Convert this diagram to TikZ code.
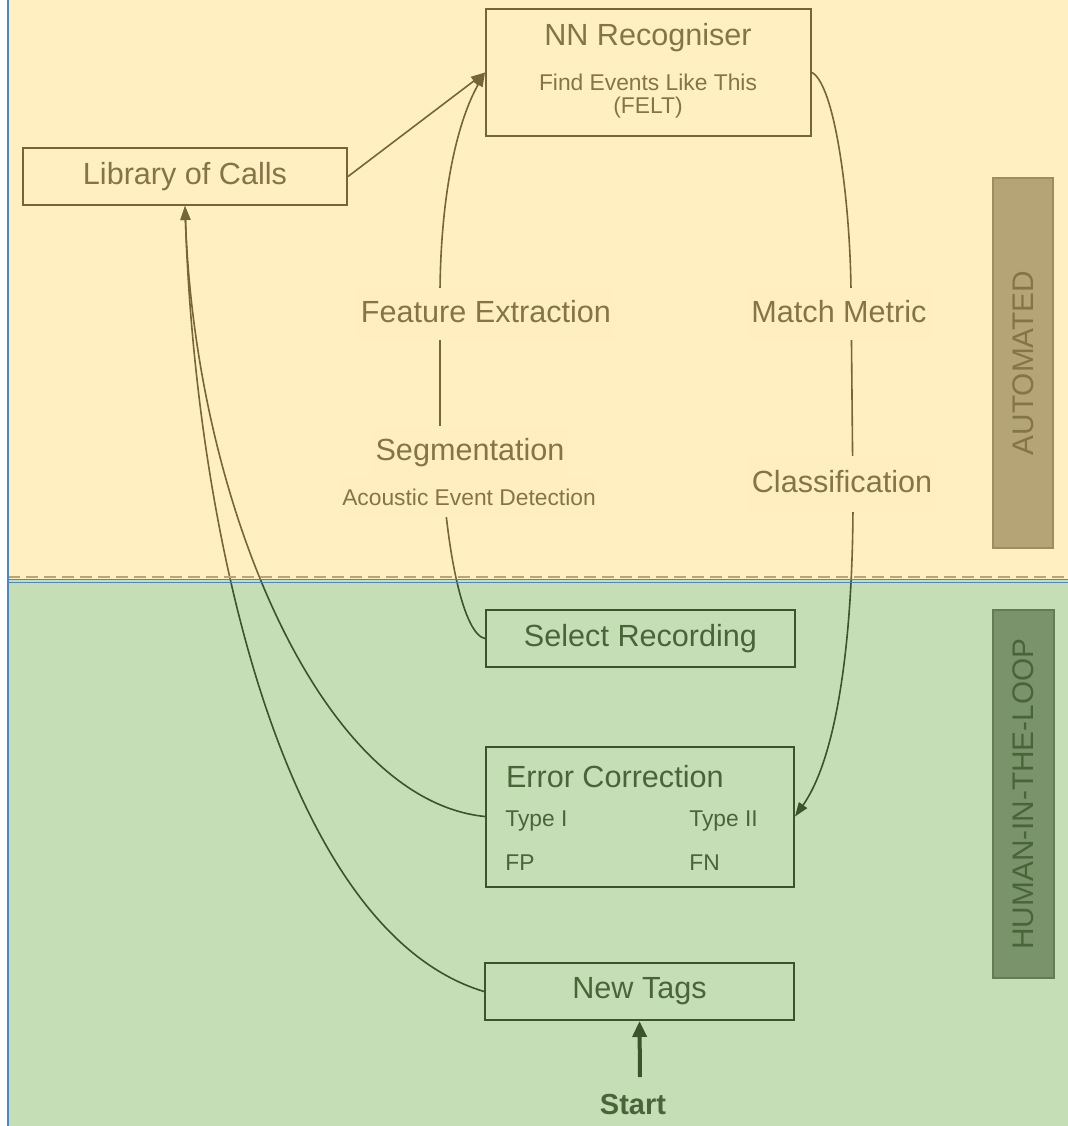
\documentclass[tikz,border=0pt]{standalone}
\usepackage{fontspec}
\setmainfont{Liberation Sans}
\usetikzlibrary{arrows.meta}
\definecolor{autobg}{RGB}{255,211,83}
\definecolor{humanbg}{RGB}{94,164,50}
\definecolor{ink}{RGB}{40,40,40}
\definecolor{inktext}{RGB}{64,64,64}
\definecolor{sepblue}{RGB}{75,135,205}
\tikzstyle{box}=[draw=ink, line width=1pt, text=inktext, font=\fontsize{15.3}{18}\selectfont]
\tikzstyle{lbl}=[fill=white, text=inktext, font=\fontsize{15.3}{18}\selectfont, inner xsep=2pt, inner ysep=6pt, text height=11pt, text depth=3pt]
\tikzstyle{sub}=[text=inktext, font=\fontsize{11.4}{13}\selectfont, inner sep=1pt]
\tikzstyle{flow}=[draw=ink, line width=.8pt]
\tikzstyle{tip}=[-{Triangle[length=7pt,width=5pt]}]
\tikzstyle{sidetag}=[draw=black!60, fill=black!46, text=black!75, line width=1pt, rotate=90, font=\fontsize{14.9}{17}\selectfont]

\begin{document}
\begin{tikzpicture}[x=.5pt, y=-.5pt]
    \useasboundingbox (0,0) rectangle (1068,1126);

    % boxes
    \node[box, minimum width=162pt, minimum height=28.5pt] (lib) at (185,176.5) {Library of Calls};
    \node[box, minimum width=162.5pt, minimum height=63.5pt] (nn) at (648.5,72.5) {};
    \node[box, minimum width=154.5pt, minimum height=28.5pt] (selrec) at (640.5,638.5) {Select Recording};
    \node[box, minimum width=154pt, minimum height=70pt] (ec) at (640,816.5) {};
    \node[box, minimum width=154.5pt, minimum height=28.5pt] (tags) at (639.5,991.5) {New Tags};

    % flows
    \draw[flow, tip] (lib.east) -- (nn.west);
    \draw[flow, tip] (selrec.west) .. controls (465,635) and (445,560) .. (440,430)
        -- (440,290) .. controls (441,190) and (458,120) .. (nn.west);
    \draw[flow, tip] (nn.east) .. controls (835,85) and (850,200) .. (851,290)
        -- (853,500) .. controls (853,650) and (835,760) .. (ec.east);
    \draw[flow, tip] (ec.west) .. controls (320,800) and (195,500) .. (lib.south);
    \draw[flow, tip] (tags.west) .. controls (280,930) and (195,520) .. (lib.south);

    % labels on the flows
    \node[lbl] (feat) at (486,314) {Feature Extraction};
    \node[lbl] (seg) at (470,452) {Segmentation};
    \node[sub, fill=white, inner ysep=6pt] (aed) at (469,497) {Acoustic Event Detection};
    \node[lbl] (match) at (839,314) {Match Metric};
    \node[lbl, inner ysep=7pt] (cls) at (842,484) {Classification};

    % box texts
    \node[box, draw=none] (nntitle) at (648,38) {NN Recogniser};
    \node[sub] (felt1) at (648,82) {Find Events Like This};
    \node[sub] (felt2) at (648,108) {(FELT)};
    \node[box, draw=none, anchor=west, inner sep=0pt] (ectitle) at (505,777) {Error Correction};
    \node[sub, anchor=west, inner sep=0pt] (t1) at (505,821) {Type I};
    \node[sub, anchor=west, inner sep=0pt] (t2) at (689,821) {Type II};
    \node[sub, anchor=west, inner sep=0pt] (fp) at (505,863) {FP};
    \node[sub, anchor=west, inner sep=0pt] (fn) at (689,863) {FN};

    % start
    \node[text=inktext, font=\fontsize{14.5}{17}\selectfont\bfseries] (start) at (633,1105) {Start};
    \coordinate (st) at (640,1077);
    \draw[draw=ink, line width=2pt, -{Triangle[length=8pt,width=7pt]}] (st) -- (tags.south);

    % side tags
    \node[sidetag, minimum width=185pt, minimum height=30pt] (auto) at (1023,363) {AUTOMATED};
    \node[sidetag, minimum width=184pt, minimum height=30.5pt] (hitl) at (1023.5,794) {HUMAN-IN-THE-LOOP};

    % separator
    \draw[black!45, line width=1pt, dash pattern=on 6pt off 3pt] (8,577) -- (1068,577);

    % panels
    \fill[autobg, opacity=.36] (8,0) rectangle (1068,579);
    \fill[humanbg, opacity=.36] (8,579) rectangle (1068,1126);

    \draw[sepblue, line width=.5pt] (8,579.5) -- (1068,579.5);
    \draw[sepblue, line width=.5pt] (8,582) -- (1068,582);
    \draw[sepblue, line width=.8pt] (8,0) -- (8,1126);
\end{tikzpicture}
\end{document}
